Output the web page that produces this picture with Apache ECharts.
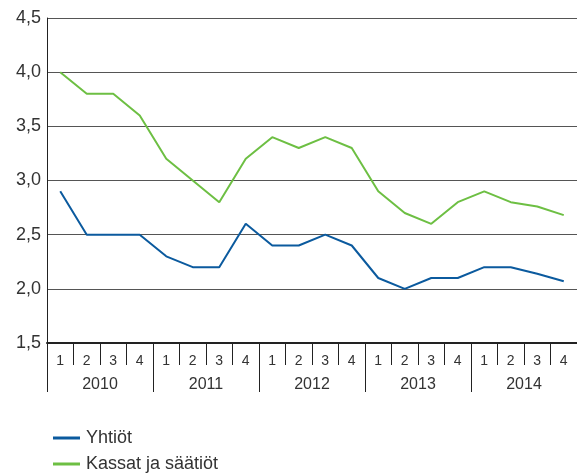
<!DOCTYPE html>
<html><head><meta charset="utf-8">
<script src="https://cdn.jsdelivr.net/npm/echarts@6/dist/echarts.min.js"></script>
<style>html,body{margin:0;padding:0;background:#fff}#c{width:577px;height:473px}</style>
</head><body><div id="c"></div>
<script>
var quarters = ['1','2','3','4','1','2','3','4','1','2','3','4','1','2','3','4','1','2','3','4'];
var years = ['2010','2011','2012','2013','2014'];
var yhtiot = [2.9,2.5,2.5,2.5,2.3,2.2,2.2,2.6,2.4,2.4,2.5,2.4,2.1,2.0,2.1,2.1,2.2,2.2,2.14,2.07];
var kassat = [4.0,3.8,3.8,3.6,3.2,3.0,2.8,3.2,3.4,3.3,3.4,3.3,2.9,2.7,2.6,2.8,2.9,2.8,2.76,2.68];
var seriesNames = ['Yhtiöt','Kassat ja säätiöt'];

var FONT = 'Liberation Sans';
var legendBase = {
  left: 48, itemWidth: 27, itemHeight: 3, icon: 'rect',
  textStyle: {fontFamily: FONT, fontSize: 18, color: '#333', padding: [0,0,0,1]}
};
var chart = echarts.init(document.getElementById('c'));
chart.setOption({
  animation: false,
  textStyle: {fontFamily: FONT},
  grid: {left: 47, top: 18, width: 539, height: 325, containLabel: false},
  legend: [
    Object.assign({}, legendBase, {top: 424, data: [seriesNames[0]]}),
    Object.assign({}, legendBase, {top: 450, data: [seriesNames[1]]})
  ],
  xAxis: [{
    type: 'category', data: quarters, position: 'bottom', boundaryGap: true,
    axisLine: {show: true, lineStyle: {color: '#222', width: 2}},
    axisTick: {show: true, inside: false, alignWithLabel: false, length: 22, interval: 0, lineStyle: {color: '#222', width: 1}},
    axisLabel: {interval: 0, margin: 11, fontSize: 14, color: '#333', fontFamily: FONT}
  }, {
    type: 'category', data: years, position: 'bottom', boundaryGap: true,
    axisLine: {show: false},
    axisTick: {show: true, inside: false, alignWithLabel: false, length: 49, interval: 0, lineStyle: {color: '#222', width: 1}},
    axisLabel: {interval: 0, margin: 34, fontSize: 16, color: '#333', fontFamily: FONT}
  }],
  yAxis: {
    type: 'value', min: 1.5, max: 4.5, interval: 0.5,
    axisLine: {show: true, lineStyle: {color: '#222', width: 1}},
    axisTick: {show: false},
    axisLabel: {margin: 6, fontSize: 18, color: '#333', fontFamily: FONT,
      formatter: function(v){ return v.toFixed(1).replace('.', ','); }},
    splitLine: {lineStyle: {color: '#555', width: 1}}
  },
  series: [{
    name: seriesNames[0], type: 'line', data: yhtiot, xAxisIndex: 0,
    symbol: 'none', lineStyle: {color: '#0b5a9e', width: 2}, itemStyle: {color: '#0b5a9e'}
  }, {
    name: seriesNames[1], type: 'line', data: kassat, xAxisIndex: 0,
    symbol: 'none', lineStyle: {color: '#6dbf43', width: 2}, itemStyle: {color: '#6dbf43'}
  }]
});
</script></body></html>
